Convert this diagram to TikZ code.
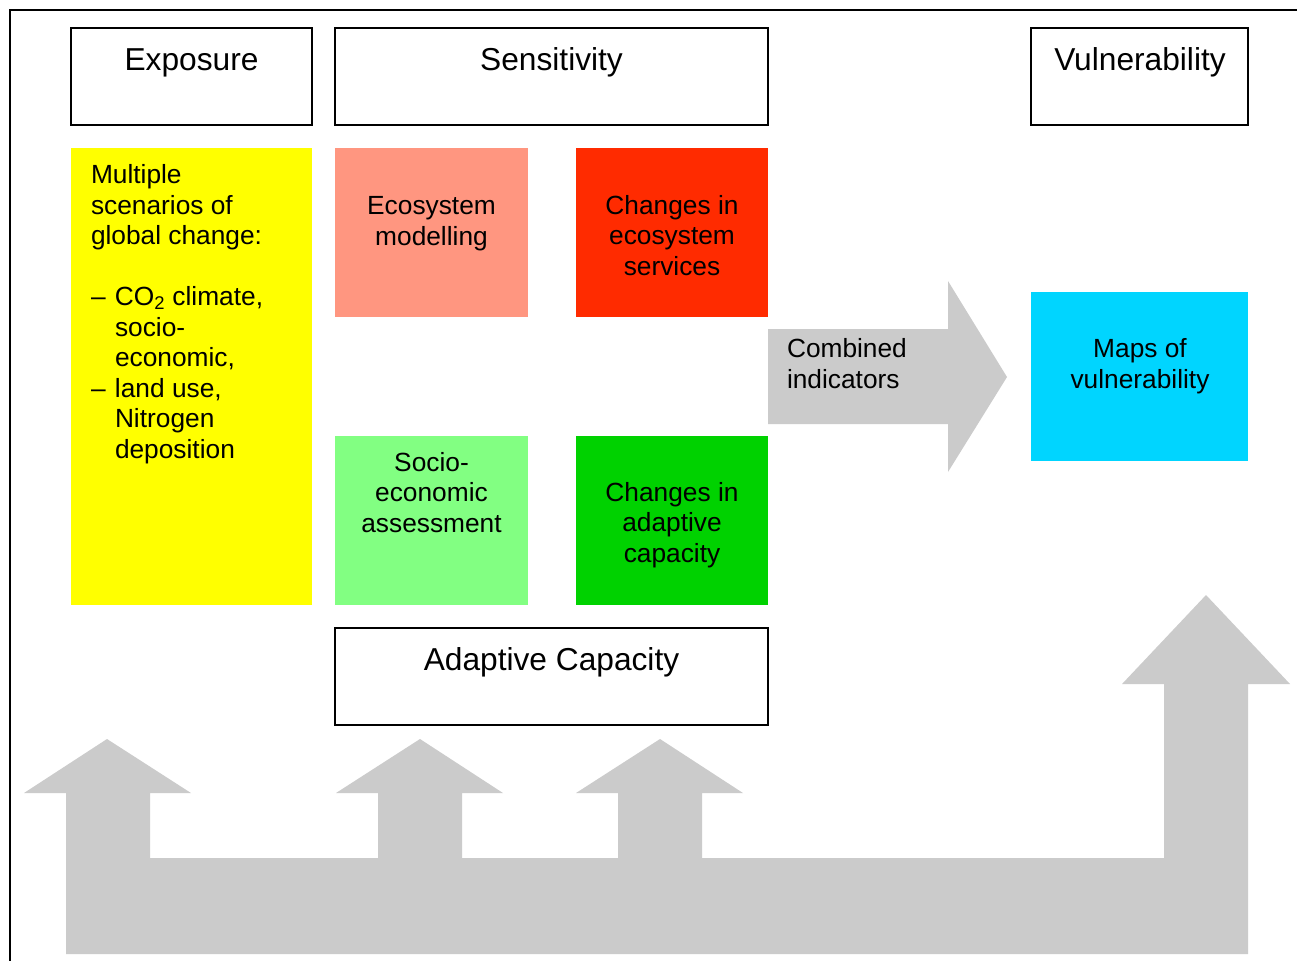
\documentclass[tikz,border=0pt]{standalone}
\usepackage{fontspec}
\setmainfont{Liberation Sans}
\definecolor{cyel}{HTML}{FFFF00}
\definecolor{csal}{HTML}{FF9680}
\definecolor{cred}{HTML}{FF2B00}
\definecolor{clgr}{HTML}{82FF82}
\definecolor{cgrn}{HTML}{00D200}
\definecolor{ccya}{HTML}{00D5FF}
\definecolor{cgry}{HTML}{CBCBCB}
\begin{document}
\begin{tikzpicture}[x=1pt,y=-1pt,
  every node/.style={inner sep=0pt, outer sep=0pt},
  hdrbox/.style={draw=black, line width=1.6pt, anchor=north west},
  colbox/.style={anchor=north west},
  hdrtxt/.style={font=\fontsize{31.7}{36}\selectfont, anchor=base},
  bodytxt/.style={font=\fontsize{26.3}{30.5}\selectfont, anchor=base, align=center},
  grayshape/.style={fill=cgry, draw=none}]
\useasboundingbox (0,0) rectangle (1297,961);
% frame
\draw[line width=2pt] (1297,10) -- (10,10) -- (10,961);
% header boxes
\node[hdrbox, minimum width=241pt, minimum height=97pt] (expbox) at (71,28) {};
\node[hdrbox, minimum width=433pt, minimum height=97pt] (senbox) at (335,28) {};
\node[hdrbox, minimum width=217pt, minimum height=97pt] (vulbox) at (1031,28) {};
\node[hdrbox, minimum width=433pt, minimum height=97pt] (adcbox) at (335,628) {};
\node[hdrtxt] (exptxt) at (191.5,70) {Exposure};
\node[hdrtxt] (sentxt) at (551.5,70) {Sensitivity};
\node[hdrtxt] (vultxt) at (1140,70) {Vulnerability};
\node[hdrtxt] (adctxt) at (551.5,670) {Adaptive Capacity};
% coloured boxes
\node[colbox, fill=cyel, minimum width=241pt, minimum height=457pt] (yelbox) at (71,148) {};
\node[colbox, fill=csal, minimum width=193pt, minimum height=169pt] (ecobox) at (335,148) {};
\node[colbox, fill=cred, minimum width=192pt, minimum height=169pt] (cesbox) at (576,148) {};
\node[colbox, fill=clgr, minimum width=193pt, minimum height=169pt] (socbox) at (335,436) {};
\node[colbox, fill=cgrn, minimum width=192pt, minimum height=169pt] (cacbox) at (576,436) {};
\node[colbox, fill=ccya, minimum width=217pt, minimum height=169pt] (mapbox) at (1031,292) {};
% texts (anchor = baseline of last line)
\node[bodytxt, anchor=base west, align=left] (yeltxt) at (91,458)
  {Multiple\\scenarios of\\global change:\\[30.5pt]
   \makebox[24pt][l]{–}CO\textsubscript{2} climate,\\
   \hspace*{24pt}socio-\\
   \hspace*{24pt}economic,\\
   \makebox[24pt][l]{–}land use,\\
   \hspace*{24pt}Nitrogen\\
   \hspace*{24pt}deposition};
\node[bodytxt] (ecotxt) at (431.5,245) {Ecosystem\\modelling};
\node[bodytxt] (cestxt) at (672,275) {Changes in\\ecosystem\\services};
\node[bodytxt] (soctxt) at (431.5,532) {Socio-\\economic\\assessment};
\node[bodytxt] (cactxt) at (672,562) {Changes in\\adaptive\\capacity};
\node[bodytxt] (maptxt) at (1140,388) {Maps of\\vulnerability};
% combined indicators arrow
\fill[grayshape] (768,329) -- (948,329) -- (948,281) -- (1007,377) -- (948,472) -- (948,424) -- (768,424) -- cycle;
\node[bodytxt, anchor=base west, align=left] (comtxt) at (787,388) {Combined\\indicators};
% bottom arrows
\fill[grayshape] (66,954) -- (66,793) -- (24,793) -- (107,739) -- (191,793) -- (150,793) -- (150,858)
  -- (378,858) -- (378,793) -- (336,793) -- (420,739) -- (503,793) -- (462,793) -- (462,858)
  -- (618,858) -- (618,793) -- (576,793) -- (660,739) -- (743,793) -- (702,793) -- (702,858)
  -- (1164,858) -- (1164,684) -- (1122,684) -- (1206,595) -- (1290,684) -- (1248,684) -- (1248,954) -- cycle;
\end{tikzpicture}
\end{document}
